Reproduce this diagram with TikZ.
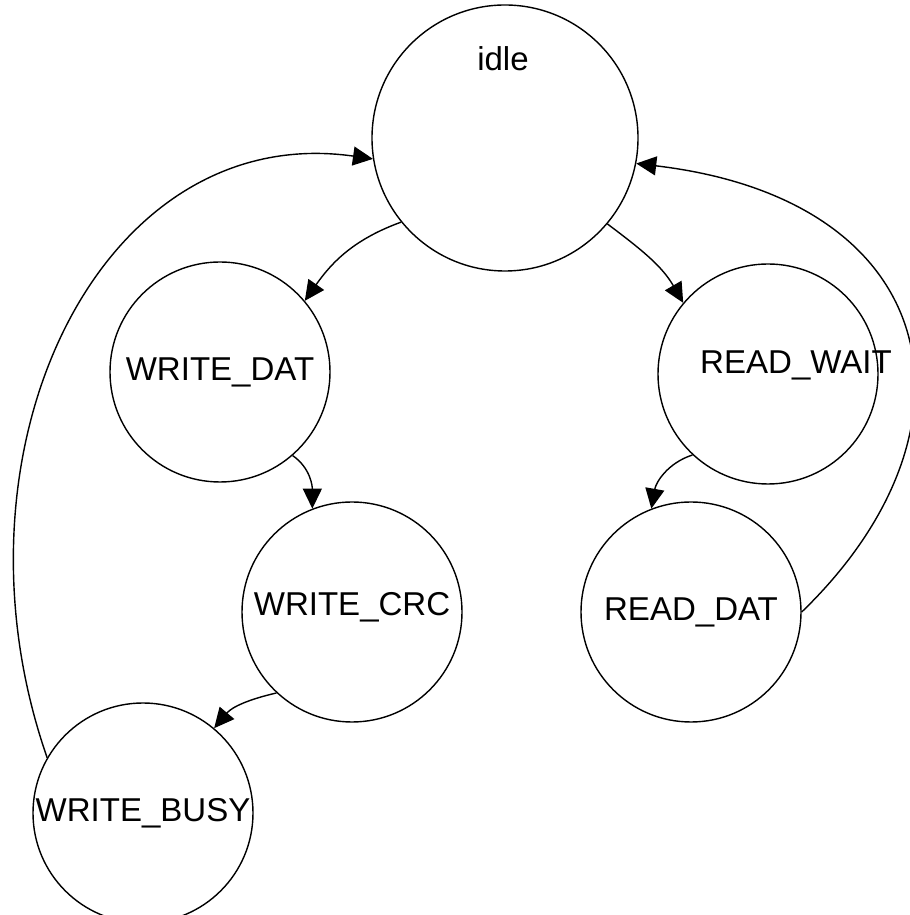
\documentclass[tikz,border=0pt]{standalone}
\usepackage{fontspec}
\setmainfont{Liberation Sans}
\usetikzlibrary{arrows.meta}

\begin{document}
\begin{tikzpicture}[
  x=1cm, y=1cm,
  every node/.style={inner sep=1pt, font=\fontsize{9.4}{11}\selectfont},
  state/.style={circle, draw, line width=0.4pt, minimum size=2.2cm, inner sep=0pt},
  bigstate/.style={state, minimum size=2.66cm},
  arrow/.style={draw, line width=0.4pt, -{Triangle[length=2mm, width=1.9mm]}}]

  \useasboundingbox (0,0) rectangle (9.09,9.15);

  % states
  \node[bigstate, label={[xshift=-0.02cm, yshift=0.79cm]center:idle}] (idle) at (5.05,7.77) {};
  \node[state] (wdat)  at (2.20,5.43) {WRITE\_DAT};
  \node[state, label={[yshift=0.05cm]center:WRITE\_CRC}] (wcrc) at (3.52,3.03) {};
  \node[state] (wbusy) at (1.43,1.02) {WRITE\_BUSY};
  \node[state, label={[xshift=0.28cm, yshift=0.09cm]center:READ\_WAIT}] (rwait) at (7.68,5.41) {};
  \node[state] (rdat)  at (6.91,3.03) {READ\_DAT};

  % write branch
  \draw[arrow] (idle.219) to[out=200, in=55] (wdat.40);
  \draw[arrow] (wdat.311) to[out=-35, in=90] (wcrc.111);
  \draw[arrow] (wcrc.227) to[out=193, in=50] (wbusy.50);
  \draw[arrow] (wbusy.150) .. controls (-0.60,4.65) and (1.00,7.95) .. (idle.189);

  % read branch
  \draw[arrow] (idle.320) to[out=-37, in=120] (rwait.140);
  \draw[arrow] (rwait.227) to[out=198, in=80] (rdat.111);
  \draw[arrow] (rdat.0) .. controls (9.90,4.85) and (9.45,7.15) .. (idle.349);
\end{tikzpicture}
\end{document}
